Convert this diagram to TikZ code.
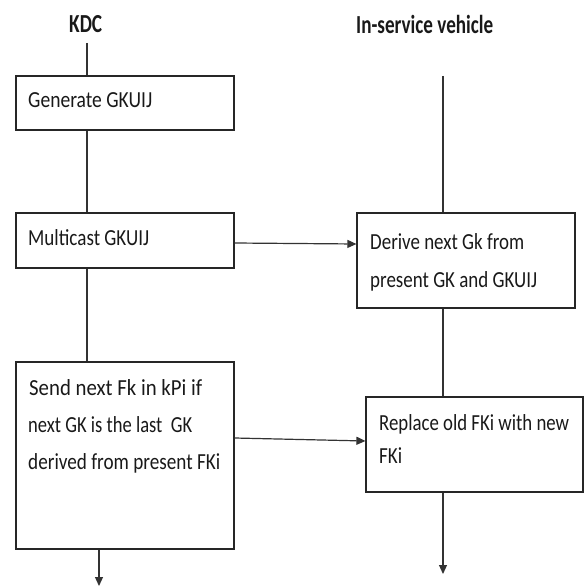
\documentclass[tikz,border=0pt]{standalone}
\usepackage{fontspec}
\usepackage{graphicx}
\setmainfont{Carlito}
\usetikzlibrary{arrows.meta}
\newcommand{\fitw}[2]{\resizebox{#1pt}{\height}{#2}}
\begin{document}
\begin{tikzpicture}[x=1pt,y=-1pt,
  box/.style={draw=black!85,line width=1.2pt,rectangle,inner sep=0pt,minimum width=218pt},
  txt/.style={anchor=base west,inner sep=0pt,font=\fontsize{23}{28}\selectfont,text=black!90},
  head/.style={anchor=base west,inner sep=0pt,font=\bfseries\fontsize{26}{30}\selectfont,text=black!90},
  conn/.style={draw=black!80,line width=1.2pt},
  arr/.style={conn,-{Triangle[length=9pt,width=8pt]}}]
\useasboundingbox (0,0) rectangle (584,588);
% headers
\node[head] (kdc) at (69,33) {\fitw{33}{KDC}};
\node[head] (veh) at (356,34) {\fitw{137}{In-service vehicle}};
\coordinate (kdctop) at (87,43);
\coordinate (vehtop) at (443,76);
% boxes
\node[box,minimum height=54pt] (gen) at (125,103) {};
\node[box,minimum height=55pt] (multi) at (125,240.5) {};
\node[box,minimum height=187pt] (send) at (125,455.5) {};
\node[box,minimum height=95pt] (derive) at (466,260.5) {};
\node[box,minimum height=95pt,minimum width=217pt] (replace) at (474.5,444.5) {};
% texts
\node[txt] (t1) at (28,108) {\fitw{124}{Generate GKUIJ}};
\node[txt] (t2) at (28,245) {\fitw{121}{Multicast GKUIJ}};
\node[txt] (t3a) at (29,395) {\fitw{173}{Send next Fk in kPi if}};
\node[txt] (t3b) at (28,432) {\fitw{164}{next GK is the last\ \ GK}};
\node[txt] (t3c) at (28,469) {\fitw{192}{derived from present FKi}};
\node[txt] (t4a) at (370,249) {\fitw{154}{Derive next Gk from}};
\node[txt] (t4b) at (370,287) {\fitw{167}{present GK and GKUIJ}};
\node[txt] (t5a) at (379,430) {\fitw{190}{Replace old FKi with new}};
\node[txt] (t5b) at (379,463) {\fitw{23}{FKi}};
% connectors
\coordinate (sendout) at (99,586);
\coordinate (repout) at (443,574);
\draw[conn] (kdctop) -- (kdctop |- gen.north);
\draw[conn] (87,0 |- gen.south) -- (87,0 |- multi.north);
\draw[conn] (87,0 |- multi.south) -- (87,0 |- send.north);
\draw[arr] (sendout |- send.south) -- (sendout);
\draw[conn] (vehtop) -- (vehtop |- derive.north);
\draw[conn] (443,0 |- derive.south) -- (443,0 |- replace.north);
\draw[arr] (repout |- replace.south) -- (repout);
\draw[arr] (multi.east |- 0,243) -- (derive.west |- 0,244);
\draw[arr] (send.east |- 0,438) -- (replace.west |- 0,441);
\end{tikzpicture}
\end{document}
